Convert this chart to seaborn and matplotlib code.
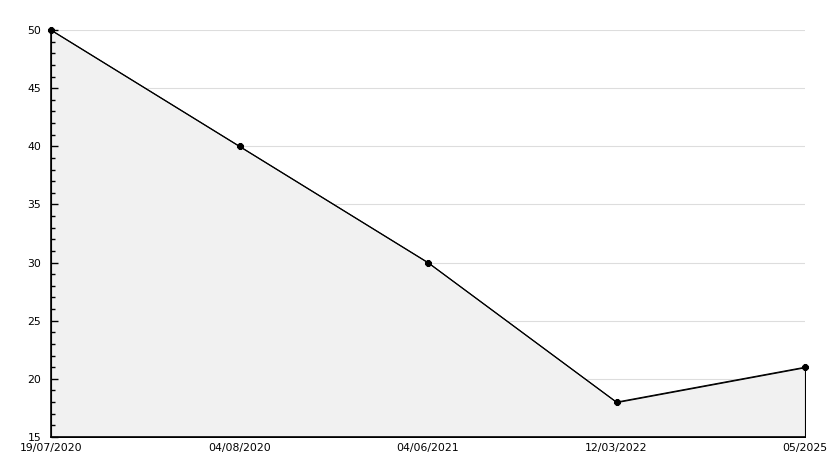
import matplotlib
matplotlib.use("Agg")
import matplotlib.pyplot as plt
import seaborn as sns
import pandas as pd
from matplotlib.ticker import MultipleLocator

dates = ["19/07/2020", "04/08/2020", "04/06/2021", "12/03/2022", "05/2025"]
values = [50, 40, 30, 18, 21]

sns.set_style("white")
plt.rcParams['font.family'] = ['DejaVu Sans']

df = pd.DataFrame({"idx": range(len(dates)), "value": values})

fig = plt.figure(figsize=(8.34, 4.68), dpi=100)
ax = fig.add_axes([51/834, 1-437/468, (805-51)/834, (437-30)/468])

ax.set_xlim(0, len(dates)-1)
ax.set_ylim(15, 50)
ax.yaxis.set_major_locator(MultipleLocator(5))
ax.yaxis.set_minor_locator(MultipleLocator(1))

for yv in ax.get_yticks():
    if 15 < yv <= 50:
        ax.axhline(yv, color="#dddddd", linewidth=0.8, zorder=0)

ax.fill_between(df["idx"], df["value"], 15, color="#f1f1f1", edgecolor="black", linewidth=0.8, zorder=1)
sns.lineplot(data=df, x="idx", y="value", ax=ax, color="black", linewidth=0.8,
             marker="8", markersize=4.5, markeredgecolor="black", zorder=3, clip_on=False)

ax.set_xticks(range(len(dates)))
ax.set_xticklabels(dates)
ax.set_axisbelow(False)
ax.set_xlabel("")
ax.set_ylabel("")

for s in ["top", "right"]:
    ax.spines[s].set_visible(False)
for s in ["left", "bottom"]:
    ax.spines[s].set_color("black")
    ax.spines[s].set_linewidth(1.2)
    ax.spines[s].set_zorder(2.6)

ax.tick_params(axis="y", which="major", direction="in", length=5, width=1, left=True, labelsize=7.8, pad=7, colors="black")
ax.tick_params(axis="y", which="minor", direction="in", length=3, width=1, left=True, colors="black")
ax.tick_params(axis="x", which="major", length=0, labelsize=7.8, pad=4, colors="black")

fig.savefig("out.png", dpi=100)
